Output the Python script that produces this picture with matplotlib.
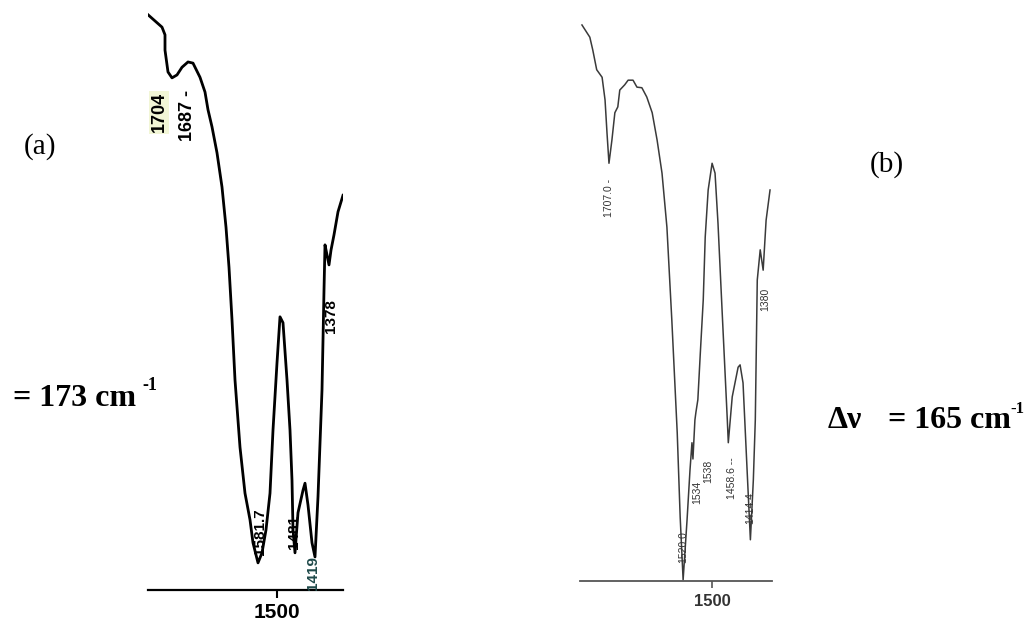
import matplotlib.pyplot as plt

# espectro (a): numero de onda (cm-1) e transmitancia (%)
wn_a = [1758, 1730, 1724, 1724, 1718, 1710, 1700, 1690, 1678, 1668, 1654, 1644,
        1638, 1630, 1620, 1610, 1602, 1596, 1590, 1584, 1574, 1564, 1554, 1548,
        1538, 1530, 1522, 1514, 1508, 1500, 1494, 1488, 1480, 1474, 1470, 1468,
        1464, 1458, 1448, 1444, 1438, 1430, 1424, 1418, 1410, 1406, 1404, 1400,
        1396, 1392, 1386, 1378, 1368]
t_a = [97.5, 95.4, 94.1, 91.5, 87.8, 86.8, 87.3, 88.6, 89.5, 89.3, 86.9, 84.4,
       81.4, 78.5, 74.1, 68.3, 61.5, 54.7, 45.8, 35.6, 24.2, 16.4, 11.9, 8.0,
       4.6, 6.3, 10.2, 16.4, 27.1, 38.5, 46.3, 45.3, 35.6, 27.1, 18.6, 10.2,
       6.3, 13.1, 16.9, 18.1, 14.4, 8.0, 5.6, 15.8, 33.9, 50.8, 58.5, 56.8,
       55.1, 57.6, 60.2, 64.1, 66.9]

# espectro (b)
wn_b = [1765, 1749, 1743, 1735, 1724, 1718, 1714, 1710, 1704, 1698, 1692, 1688,
        1678, 1671, 1661, 1653, 1643, 1633, 1622, 1612, 1602, 1592, 1582, 1571,
        1565, 1559, 1551, 1545, 1541, 1539, 1535, 1533, 1529, 1524, 1518, 1514,
        1508, 1500, 1494, 1488, 1480, 1469, 1467, 1459, 1447, 1443, 1437, 1429,
        1422, 1416, 1412, 1408, 1402, 1396, 1390, 1382]
t_b = [95.7, 93.6, 91.4, 88.0, 86.7, 82.8, 77.1, 71.9, 75.9, 80.6, 81.6, 84.5,
       85.4, 86.2, 86.2, 85.0, 84.9, 83.3, 80.6, 75.9, 70.2, 60.9, 44.9, 25.5,
       11.0, 0.2, 10.5, 19.1, 23.8, 21.0, 27.7, 29.0, 31.2, 39.2, 48.4, 59.2,
       67.3, 71.9, 70.2, 61.6, 47.2, 27.7, 23.8, 31.7, 36.8, 37.2, 34.1, 19.6,
       7.1, 17.4, 27.7, 51.8, 57.0, 53.5, 62.1, 67.3]

# rotulos dos picos: (texto, numero de onda, transmitancia)
picos_a = [("1704", 1736, 81.0), ("1687 -", 1679, 80.5), ("1581.7", 1534, 9.8),
           ("1481", 1466, 9.8), ("1419", 1428, 2.9), ("1378", 1392, 46.4)]
picos_b = [("1707.0 -", 1710, 65.9), ("1520.0", 1559, 5.9), ("1534", 1531, 15.3),
           ("1538", 1508, 18.8), ("1458.6 --", 1459, 17.7), ("1414.4", 1422, 12.6),
           ("1380", 1392, 48.4)]

W, H = 1026, 624
fig = plt.figure(figsize=(W / 100, H / 100), dpi=100)
fig.patch.set_facecolor("white")

ax_a = fig.add_axes([148 / W, (H - 590) / H, 195 / W, 590 / H])
ax_b = fig.add_axes([580 / W, (H - 581) / H, 192 / W, 581 / H])

ax_a.plot(wn_a, t_a, color="black", lw=2.0)
ax_a.set_xlim(1758, 1368)
ax_b.plot(wn_b, t_b, color="#3a3a3a", lw=1.1)
ax_b.set_xlim(1769, 1378)

for ax in (ax_a, ax_b):
    ax.set_ylim(0, 100)
    for s in ("top", "left", "right"):
        ax.spines[s].set_visible(False)
    ax.set_yticks([])
    ax.set_xticks([1500])
    ax.set_xticklabels(["1500"])
    ax.patch.set_alpha(0)

ax_a.spines["bottom"].set_linewidth(1.6)
ax_a.tick_params(axis="x", length=6, width=1.5, pad=3, labelsize=15)
ax_b.spines["bottom"].set_color("#555555")
ax_b.spines["bottom"].set_linewidth(1.3)
ax_b.tick_params(axis="x", length=5, width=1.2, pad=4, labelsize=12,
                 color="#555555", labelcolor="#333333")
for ax in (ax_a, ax_b):
    for lb in ax.get_xticklabels():
        lb.set_fontweight("bold")
        lb.set_family("Liberation Sans")

for txt, w, t in picos_a:
    kw = {}
    cor = "black"
    tam = 11
    if txt == "1704":
        kw["bbox"] = dict(facecolor="#f2f6d6", edgecolor="none", pad=1)
        tam = 13
    if txt.startswith("1687"):
        tam = 13
    if txt == "1419":
        cor = "#1f4a4a"
    ax_a.text(w, t, txt, rotation=90, ha="center", va="center", fontsize=tam,
              fontweight="bold", family="Liberation Sans", color=cor, **kw)

for txt, w, t in picos_b:
    ax_b.text(w, t, txt, rotation=90, ha="center", va="center", fontsize=7.5,
              family="Liberation Sans", color="#333333", clip_on=True)

serif = ["Liberation Serif", "DejaVu Serif"]
fig.text(40 / W, 1 - 147 / H, "(a)", ha="center", va="center", fontsize=21,
         family=serif)
fig.text(887 / W, 1 - 165 / H, "(b)", ha="center", va="center", fontsize=21,
         family=serif)

fig.text(13 / W, 1 - 406 / H, "= 173 cm", ha="left", va="baseline", fontsize=23,
         fontweight="bold", family=serif)
fig.text(142 / W, 1 - 390 / H, "-1", ha="left", va="baseline", fontsize=13,
         fontweight="bold", family=serif)

fig.text(828 / W, 1 - 428 / H, "\u0394\u03bd", ha="left", va="baseline",
         fontsize=23, fontweight="bold", family=serif)
fig.text(888 / W, 1 - 428 / H, "= 165 cm", ha="left", va="baseline", fontsize=23,
         fontweight="bold", family=serif)
fig.text(1010 / W, 1 - 413 / H, "-1", ha="left", va="baseline", fontsize=12,
         fontweight="bold", family=serif)

fig.savefig("out.png", dpi=100, facecolor="white")
